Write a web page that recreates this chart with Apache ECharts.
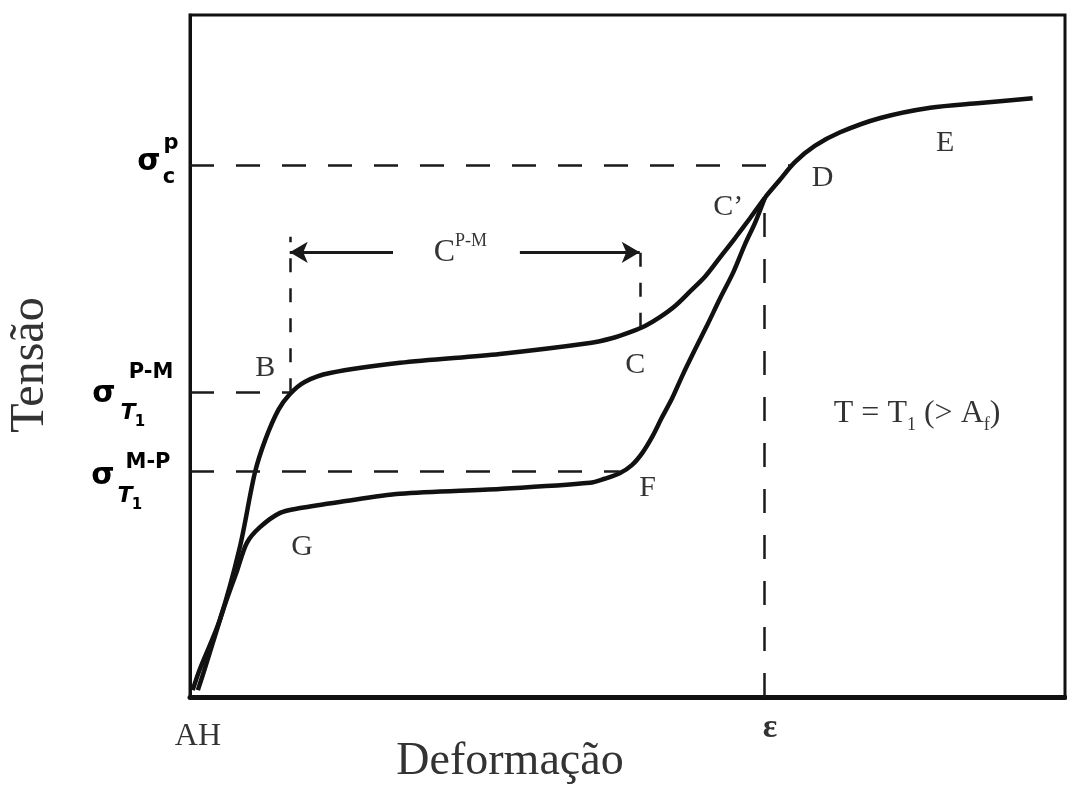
<!DOCTYPE html>
<html>
<head>
<meta charset="utf-8">
<script src="https://cdn.jsdelivr.net/npm/echarts@6/dist/echarts.min.js"></script>
<style>
  html, body { margin: 0; padding: 0; background: #fff; }
  #chart { width: 1067px; height: 785px; }
</style>
</head>
<body>
<div id="chart"></div>
<script>
// Superelastic stress–strain loop (T = T1 > Af), arbitrary units 0..100

// Loading branch: A -> B -> C -> C' -> D -> E
const strainLoad = [0.3, 1.1, 3.4, 5.7, 7.4, 8.6, 10.1, 11.4, 13.1, 16.0, 24.0, 35.4, 45.7, 48.2, 50.3, 52.0, 53.7, 55.4, 57.1, 58.9, 60.6, 62.3, 64.0, 65.7, 67.4, 69.1, 71.4, 74.3, 78.9, 84.6, 90.3, 96.3];
const stressLoad = [1.0, 4.0, 11.3, 22.0, 32.8, 37.7, 42.1, 44.4, 46.2, 47.5, 49.0, 50.3, 51.9, 52.6, 53.5, 54.4, 55.7, 57.3, 59.4, 61.7, 64.5, 67.3, 70.2, 73.2, 75.8, 78.4, 80.8, 82.8, 84.9, 86.4, 87.1, 87.8];

// Unloading branch: H <- G <- F <- C'
const strainUnload = [0.9, 1.9, 3.8, 5.4, 6.5, 8.0, 10.3, 12.6, 17.1, 24.0, 35.4, 45.7, 47.4, 49.1, 50.5, 51.7, 52.8, 53.9, 55.1, 56.3, 57.7, 59.1, 60.6, 62.1, 63.4, 64.6, 65.7];
const stressUnload = [1.0, 5.0, 12.8, 18.6, 22.6, 24.9, 27.0, 27.7, 28.6, 29.8, 30.5, 31.4, 32.0, 32.8, 34.0, 35.8, 38.1, 40.9, 43.8, 47.2, 50.9, 54.5, 58.5, 62.3, 66.3, 69.6, 73.2];

// Characteristic levels
const sigmaCp = 78.0;   // σc^p
const sigmaPM = 44.7;   // σ^(P-M)_T1
const sigmaMP = 33.1;   // σ^(M-P)_T1
const strainB = 11.4;
const strainC = 51.4;
const strainD = 68.6;
const strainF = 49.1;
const strainMax = 65.6; // ε
const stressCprime = 73.2;
const strainC_low = 54.3;
const bracketTop = 67.5;
const bracketLevel = 65.2;
const bracketGapLeft = 23.2;
const bracketGapRight = 37.7;

// Point letters
const pointNames = ['B', 'C', 'C\u2019', 'D', 'E', 'F', 'G'];
const pointStrain = [8.6, 50.9, 61.5, 72.3, 86.3, 52.3, 12.8];
const pointStress = [48.2, 48.7, 71.8, 76.1, 81.2, 30.6, 22.0];

const zip = (a, b) => a.map((v, i) => [v, b[i]]);

const serif = 'Liberation Serif';
const dashStyle = { color: '#1a1a1a', width: 2.5, type: [24, 22] };
const shortDash = { color: '#1a1a1a', width: 2.5, type: [14, 16] };
const solidStyle = { color: '#1a1a1a', width: 3, type: 'solid' };

function seg(x1, y1, x2, y2, style, s1, s2) {
  return [
    { coord: [x1, y1], symbol: s1 || 'none', lineStyle: style },
    { coord: [x2, y2], symbol: s2 || 'none', lineStyle: style }
  ];
}

const guides = [
  seg(0, sigmaCp, strainD, sigmaCp, dashStyle),
  seg(0, sigmaPM, strainB, sigmaPM, dashStyle),
  seg(0, sigmaMP, strainF, sigmaMP, dashStyle),
  seg(strainMax, 0, strainMax, stressCprime, dashStyle),
  seg(strainB, sigmaPM, strainB, bracketTop, shortDash),
  seg(strainC, strainC_low, strainC, bracketTop, shortDash),
  seg(strainB, bracketLevel, bracketGapLeft, bracketLevel, solidStyle, 'arrow', 'none'),
  seg(bracketGapRight, bracketLevel, strainC, bracketLevel, solidStyle, 'none', 'arrow')
];

const chart = echarts.init(document.getElementById('chart'), null, { renderer: 'canvas' });

const sigmaFont = 'bold 30px "DejaVu Sans"';
const supFont = 'bold 21px "DejaVu Sans"';

function gText(text, x, y, font, fill, extra) {
  return Object.assign({
    type: 'text', x: x, y: y, silent: true,
    style: { text: text, font: font, fill: fill || '#000', align: 'center', verticalAlign: 'middle' }
  }, extra || {});
}

const option = {
  animation: false,
  backgroundColor: '#fff',
  grid: { left: 190, right: 2, top: 15, bottom: 88, show: true, borderColor: '#111', borderWidth: 3 },
  xAxis: {
    type: 'value', min: 0, max: 100,
    axisLine: { show: true, lineStyle: { color: '#111', width: 5 } },
    axisTick: { show: false }, axisLabel: { show: false }, splitLine: { show: false }
  },
  yAxis: {
    type: 'value', min: 0, max: 100,
    axisLine: { show: true, lineStyle: { color: '#111', width: 3 } },
    axisTick: { show: false }, axisLabel: { show: false }, splitLine: { show: false }
  },
  series: [
    {
      name: 'carregamento', type: 'line', data: zip(strainLoad, stressLoad),
      symbol: 'none', smooth: 0.3,
      lineStyle: { color: '#111', width: 4.5 },
      markLine: {
        silent: true, animation: false, symbolSize: [16, 18],
        label: { show: false },
        data: guides
      }
    },
    {
      name: 'descarregamento', type: 'line', data: zip(strainUnload, stressUnload),
      symbol: 'none', smooth: 0.3,
      lineStyle: { color: '#111', width: 4.5 }
    },
    {
      name: 'pontos', type: 'scatter', symbolSize: 0, clip: false, silent: true,
      data: pointNames.map((n, i) => ({ name: n, value: [pointStrain[i], pointStress[i]] })),
      label: {
        show: true, position: 'inside', formatter: '{b}',
        fontFamily: serif, fontSize: 30, color: '#000'
      }
    },
    {
      name: 'rotulos', type: 'scatter', symbolSize: 0, clip: false, silent: true,
      data: [
        {
          value: [83.1, 41.5],
          label: { formatter: '{n|T = T}{s|1}{n| (> A}{s|f}{n|)}' }
        },
        {
          value: [30.9, bracketLevel],
          label: { formatter: '{n|C}{p|P-M}' }
        },
        {
          value: [0.9, 0],
          label: { position: 'bottom', distance: 20, formatter: '{n|AH}' }
        },
        {
          value: [strainMax, 0],
          label: { position: 'bottom', distance: 14, offset: [6, 0], formatter: '{e|\u03b5}' }
        }
      ],
      label: {
        show: true, position: 'inside', color: '#000',
        rich: {
          n: { fontFamily: serif, fontSize: 32, lineHeight: 40, color: '#000', verticalAlign: 'middle' },
          s: { fontFamily: serif, fontSize: 18, lineHeight: 40, color: '#000', verticalAlign: 'bottom' },
          p: { fontFamily: serif, fontSize: 18, lineHeight: 40, color: '#000', verticalAlign: 'top' },
          e: { fontFamily: serif, fontSize: 34, fontWeight: 'bold', color: '#000' }
        }
      }
    }
  ],
  graphic: [
    gText('Tensão', 30, 365, '48px "Liberation Serif"', '#333', { rotation: Math.PI / 2 }),
    gText('Deformação', 510, 762, '46px "Liberation Serif"', '#333'),
    // σc^p
    gText('\u03c3', 149, 162, sigmaFont),
    gText('p', 171, 144, supFont),
    gText('c', 169, 178, supFont),
    // σ^(P-M)_T1
    gText('\u03c3', 104, 394, sigmaFont),
    gText('P-M', 151, 373, supFont),
    gText('T', 128, 413, 'italic bold 22px "DejaVu Sans"'),
    gText('1', 140, 422, 'bold 15px "DejaVu Sans"'),
    // σ^(M-P)_T1
    gText('\u03c3', 103, 476, sigmaFont),
    gText('M-P', 148, 463, supFont),
    gText('T', 125, 496, 'italic bold 22px "DejaVu Sans"'),
    gText('1', 137, 505, 'bold 15px "DejaVu Sans"')
  ]
};

chart.setOption(option);
</script>
</body>
</html>
